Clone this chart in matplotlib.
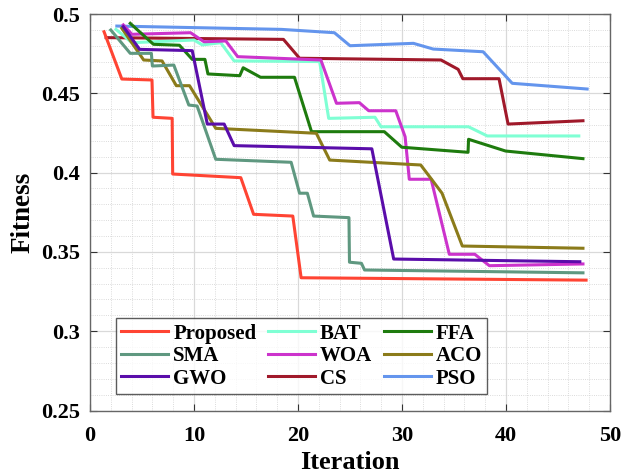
import matplotlib
matplotlib.use("Agg")
import matplotlib.pyplot as plt
from matplotlib.ticker import MultipleLocator

# ---- data ----
proposed_x = [1.35, 3.06, 5.96, 6.06, 7.9, 7.95, 14.5, 15.73, 19.5, 20.3, 47.7]
proposed_y = [0.4888, 0.459, 0.4584, 0.4349, 0.4342, 0.3991, 0.3968, 0.3737, 0.3726, 0.3337, 0.3322]

sma_x = [2.0, 3.87, 5.9, 6.0, 8.06, 9.5, 10.3, 12.09, 19.34, 20.15, 20.9, 21.5, 24.9, 24.95, 26.1, 26.4, 47.4]
sma_y = [0.4899, 0.4752, 0.4752, 0.4672, 0.4678, 0.4426, 0.442, 0.4084, 0.4065, 0.387, 0.387, 0.3726, 0.3716, 0.3435, 0.3428, 0.3386, 0.3368]

gwo_x = [3.2, 4.77, 9.83, 11.28, 12.9, 13.86, 27.1, 29.2, 47.1]
gwo_y = [0.492, 0.4777, 0.4769, 0.4306, 0.4306, 0.417, 0.415, 0.3455, 0.3438]

bat_x = [2.5, 4.03, 10.0, 10.8, 12.57, 13.86, 22.08, 22.95, 27.4, 27.98, 36.4, 38.2, 47.0]
bat_y = [0.4903, 0.4819, 0.4836, 0.4805, 0.4819, 0.4704, 0.470, 0.4342, 0.4349, 0.4289, 0.4289, 0.4231, 0.4231]

woa_x = [3.2, 4.03, 9.67, 10.96, 13.06, 14.2, 22.2, 23.7, 25.9, 26.8, 29.4, 30.3, 30.7, 32.8, 34.55, 37.0, 38.4, 47.4]
woa_y = [0.4931, 0.4872, 0.4882, 0.4825, 0.483, 0.4731, 0.471, 0.4437, 0.4441, 0.439, 0.439, 0.4226, 0.3958, 0.3958, 0.3485, 0.3485, 0.3413, 0.3424]

cs_x = [1.55, 18.6, 20.15, 33.75, 35.4, 35.85, 39.33, 40.2, 47.4]
cs_y = [0.4851, 0.484, 0.4721, 0.471, 0.4651, 0.4592, 0.4592, 0.4306, 0.4327]

ffa_x = [3.87, 6.1, 8.6, 9.83, 11.05, 11.34, 14.4, 14.73, 16.4, 19.66, 21.3, 28.3, 29.98, 36.35, 36.4, 39.96, 47.4]
ffa_y = [0.4941, 0.4809, 0.4803, 0.4714, 0.4714, 0.4622, 0.4611, 0.4661, 0.4601, 0.4601, 0.4258, 0.4258, 0.416, 0.4128, 0.421, 0.4136, 0.4088]

aco_x = [3.06, 5.16, 6.93, 8.3, 9.57, 12.09, 21.76, 23.05, 31.8, 32.9, 33.85, 35.8, 47.4]
aco_y = [0.491, 0.471, 0.4704, 0.4548, 0.4548, 0.4279, 0.4248, 0.4079, 0.4048, 0.3953, 0.387, 0.3537, 0.3523]

pso_x = [2.58, 18.4, 23.5, 25.0, 31.1, 33.0, 37.8, 40.6, 47.8]
pso_y = [0.4924, 0.4903, 0.4882, 0.480, 0.4815, 0.4779, 0.4762, 0.4563, 0.4527]

x_ticks = [0, 10, 20, 30, 40, 50]
y_ticks = [0.25, 0.3, 0.35, 0.4, 0.45, 0.5]
y_tick_labels = ["0.25", "0.3", "0.35", "0.4", "0.45", "0.5"]

# legend order (matplotlib fills columns first)
series = [
    ("Proposed", proposed_x, proposed_y, "#FF4433"),
    ("SMA", sma_x, sma_y, "#5F9880"),
    ("GWO", gwo_x, gwo_y, "#5A0DAA"),
    ("BAT", bat_x, bat_y, "#7FFFD4"),
    ("WOA", woa_x, woa_y, "#CC33CC"),
    ("CS", cs_x, cs_y, "#A0192A"),
    ("FFA", ffa_x, ffa_y, "#1E7B0E"),
    ("ACO", aco_x, aco_y, "#8B7B1A"),
    ("PSO", pso_x, pso_y, "#6495ED"),
]
draw_order = ["PSO", "CS", "BAT", "WOA", "FFA", "ACO", "GWO", "SMA", "Proposed"]

plt.rcParams['font.family'] = ['Liberation Serif', 'DejaVu Serif']
plt.rcParams['font.weight'] = 'bold'

fig = plt.figure(figsize=(6.21, 4.76), dpi=100)
ax = fig.add_axes([90 / 621, 1 - 410.5 / 476, 520 / 621, 396.5 / 476])

handles = {}
for name, xs, ys, c in series:
    (h,) = ax.plot(xs, ys, color=c, lw=2.2, label=name,
                   zorder=3 + draw_order.index(name) * 0.1)
    handles[name] = h

ax.set_xlim(0, 50)
ax.set_ylim(0.25, 0.5)
ax.set_xticks(x_ticks)
ax.xaxis.set_minor_locator(MultipleLocator(2))
ax.yaxis.set_minor_locator(MultipleLocator(0.01))
ax.set_yticks(y_ticks)
ax.set_yticklabels(y_tick_labels)

ax.grid(which='major', color='#d9d9d9', lw=0.9, ls='-')
ax.grid(which='minor', color='#cfcfcf', lw=0.6, ls=':')
ax.set_axisbelow(True)

ax.tick_params(which='both', direction='in', top=True, right=True, color='#333333')
ax.tick_params(which='major', length=5, labelsize=16)
ax.tick_params(axis='x', which='major', pad=11)
ax.tick_params(axis='y', which='major', pad=7)
ax.tick_params(which='minor', length=0)
for lab in ax.get_xticklabels() + ax.get_yticklabels():
    lab.set_fontweight('bold')
for s in ax.spines.values():
    s.set_color('#666666')
    s.set_linewidth(1.0)

ax.set_xlabel("Iteration", fontsize=19, fontweight='bold', labelpad=4)
ax.set_ylabel("Fitness", fontsize=19.5, fontweight='bold', labelpad=4)

leg = ax.legend(handles=[handles[n] for n, *_ in series], ncol=3,
                loc='lower left', bbox_to_anchor=(0.05, 0.042),
                prop={'weight': 'bold', 'size': 15},
                frameon=True, fancybox=False, edgecolor='#333333',
                handlelength=2.25, handletextpad=0.25, columnspacing=0.55,
                labelspacing=0.12, borderpad=0.25, borderaxespad=0)
leg.get_frame().set_linewidth(1.0)

fig.savefig("out.png", dpi=100)
